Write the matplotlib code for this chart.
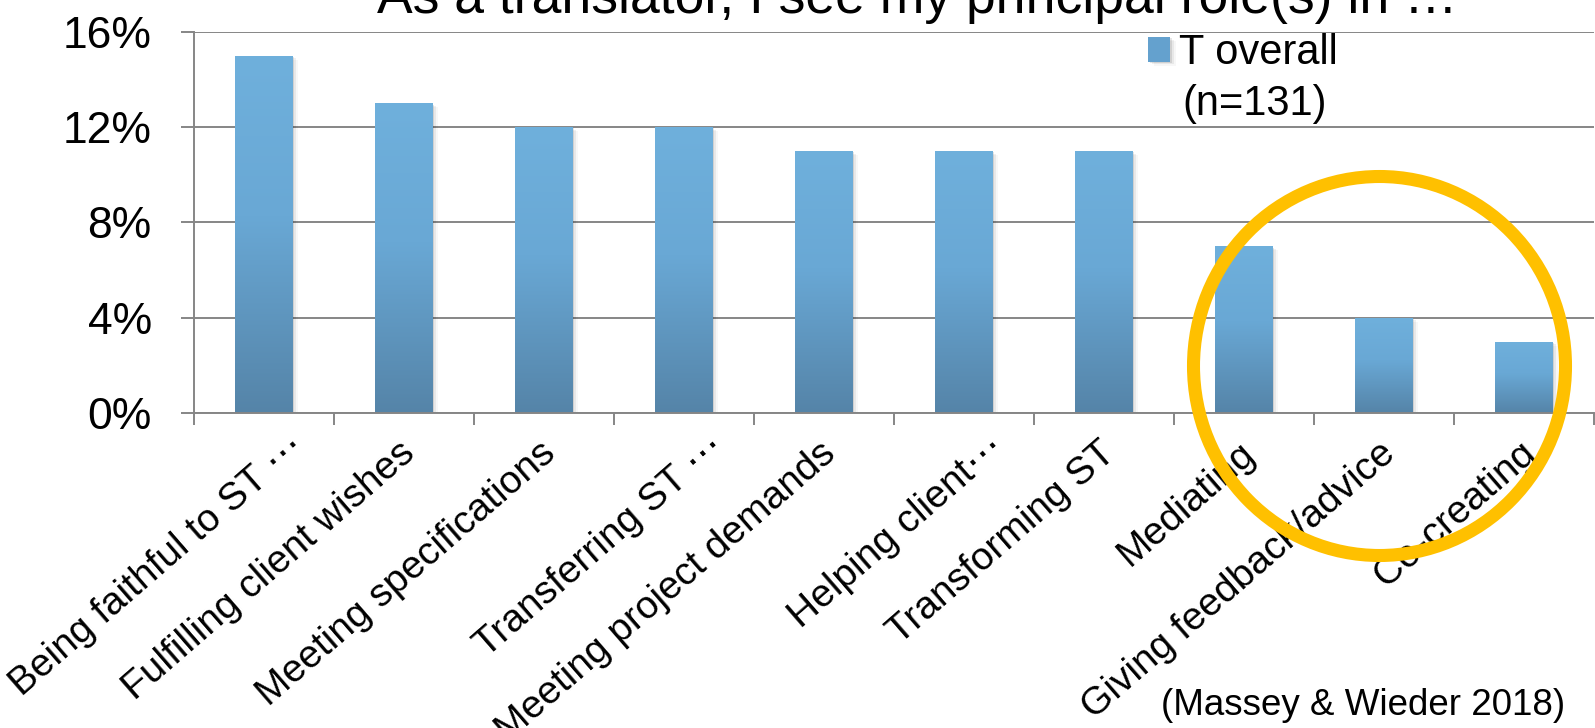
import numpy as np
import matplotlib
matplotlib.use("Agg")
import matplotlib.pyplot as plt
from matplotlib.colors import LinearSegmentedColormap
from matplotlib.patches import Ellipse
from matplotlib.transforms import ScaledTranslation
import matplotlib.patheffects as pe

plt.rcParams['font.family'] = ['Liberation Sans', 'DejaVu Sans']

# ---- data ----
categories = ["Being faithful to ST \u22ef", "Fulfilling client wishes", "Meeting specifications",
              "Transferring ST \u22ef", "Meeting project demands", "Helping client\u22ef",
              "Transforming ST", "Mediating", "Giving feedback/advice", "Co-creating"]
values = [15, 13, 12, 12, 11, 11, 11, 7, 4, 3]          # percent
yticks = [0, 4, 8, 12, 16]
title = "As a translator, I see my principal role(s) in \u2026"
series_label = "T overall"
n_label = "(n=131)"
source = "(Massey & Wieder 2018)"

W, H = 1595, 728
fig = plt.figure(figsize=(W / 100, H / 100), dpi=100)
ax = fig.add_axes([194 / W, 1 - 413 / H, 1400 / W, (413 - 31.7) / H])

grid_c = '#868686'
x = np.arange(len(categories))
shadow = [pe.SimplePatchShadow(offset=(1.2, -1.0), shadow_rgbFace='k', alpha=0.10),
          pe.SimplePatchShadow(offset=(2.6, -2.0), shadow_rgbFace='k', alpha=0.06),
          pe.SimplePatchShadow(offset=(4.0, -3.0), shadow_rgbFace='k', alpha=0.03),
          pe.Normal()]
bars = ax.bar(x, values, width=0.41, color='#64A1CE', zorder=2, label=series_label)
cmap = LinearSegmentedColormap.from_list('g', [(0, '#5584A8'), (0.55, '#69A8D5'), (1, '#6FB0DC')])
grad = np.linspace(0, 1, 256).reshape(-1, 1)
for b in bars:
    b.set_path_effects(shadow)
    x0, w, h = b.get_x(), b.get_width(), b.get_height()
    im = ax.imshow(grad, extent=[x0, x0 + w, 0, h], origin='lower', cmap=cmap,
                   aspect='auto', interpolation='bicubic', zorder=2.1)
    im.set_clip_path(b)

ax.set_xlim(-0.5, len(categories) - 0.5)
ax.set_ylim(0, 16)
ax.set_yticks(yticks)
ax.yaxis.set_major_formatter(lambda v, p: f"{v:.0f}%")
ax.grid(axis='y', color=grid_c, lw=1.4)
ax.set_axisbelow(True)
for s in ['top', 'right']:
    ax.spines[s].set_visible(False)
for s in ['left', 'bottom']:
    ax.spines[s].set_color(grid_c)
    ax.spines[s].set_linewidth(1.4)
ax.tick_params(axis='y', length=9.4, width=1.4, color=grid_c, pad=21, labelsize=32)
ax.set_xticks(x)
ax.set_xticklabels([])
ax.tick_params(axis='x', which='major', length=0)
ax.set_xticks(np.arange(-0.5, len(categories)), minor=True)
ax.tick_params(axis='x', which='minor', length=8.6, width=1.4, color=grid_c)

for i, lab in enumerate(categories):
    if lab.endswith('\u22ef'):
        dx, dy = 42, 37
    else:
        dx, dy = 13, 43
    tr = ax.transData + ScaledTranslation(dx / 100, -dy / 100, fig.dpi_scale_trans)
    ax.text(i, 0, lab, transform=tr, rotation=41, rotation_mode='anchor',
            ha='right', va='baseline', fontsize=28, clip_on=False)

fig.text(917 / W, 1 - 13 / H, title, ha='center', va='baseline', fontsize=38.5)

leg = ax.legend(loc='upper left', bbox_to_anchor=(1148 / W, 1 - 33 / H),
                bbox_transform=fig.transFigure, frameon=False, fontsize=30,
                handlelength=0.53, handleheight=0.53, handletextpad=0.22,
                borderpad=0, borderaxespad=0)
fig.text(1182 / W, 1 - 115 / H, n_label, ha='left', va='baseline', fontsize=30)
fig.text(1565 / W, 1 - 715 / H, source, ha='right', va='baseline', fontsize=26.5)

circ = Ellipse((1379.5 / W, 1 - 366 / H), width=372 / W, height=379 / H,
               transform=fig.transFigure, fill=False, edgecolor='#FFC000',
               lw=9.4, zorder=10)
fig.add_artist(circ)

fig.savefig('out.png', dpi=100)
